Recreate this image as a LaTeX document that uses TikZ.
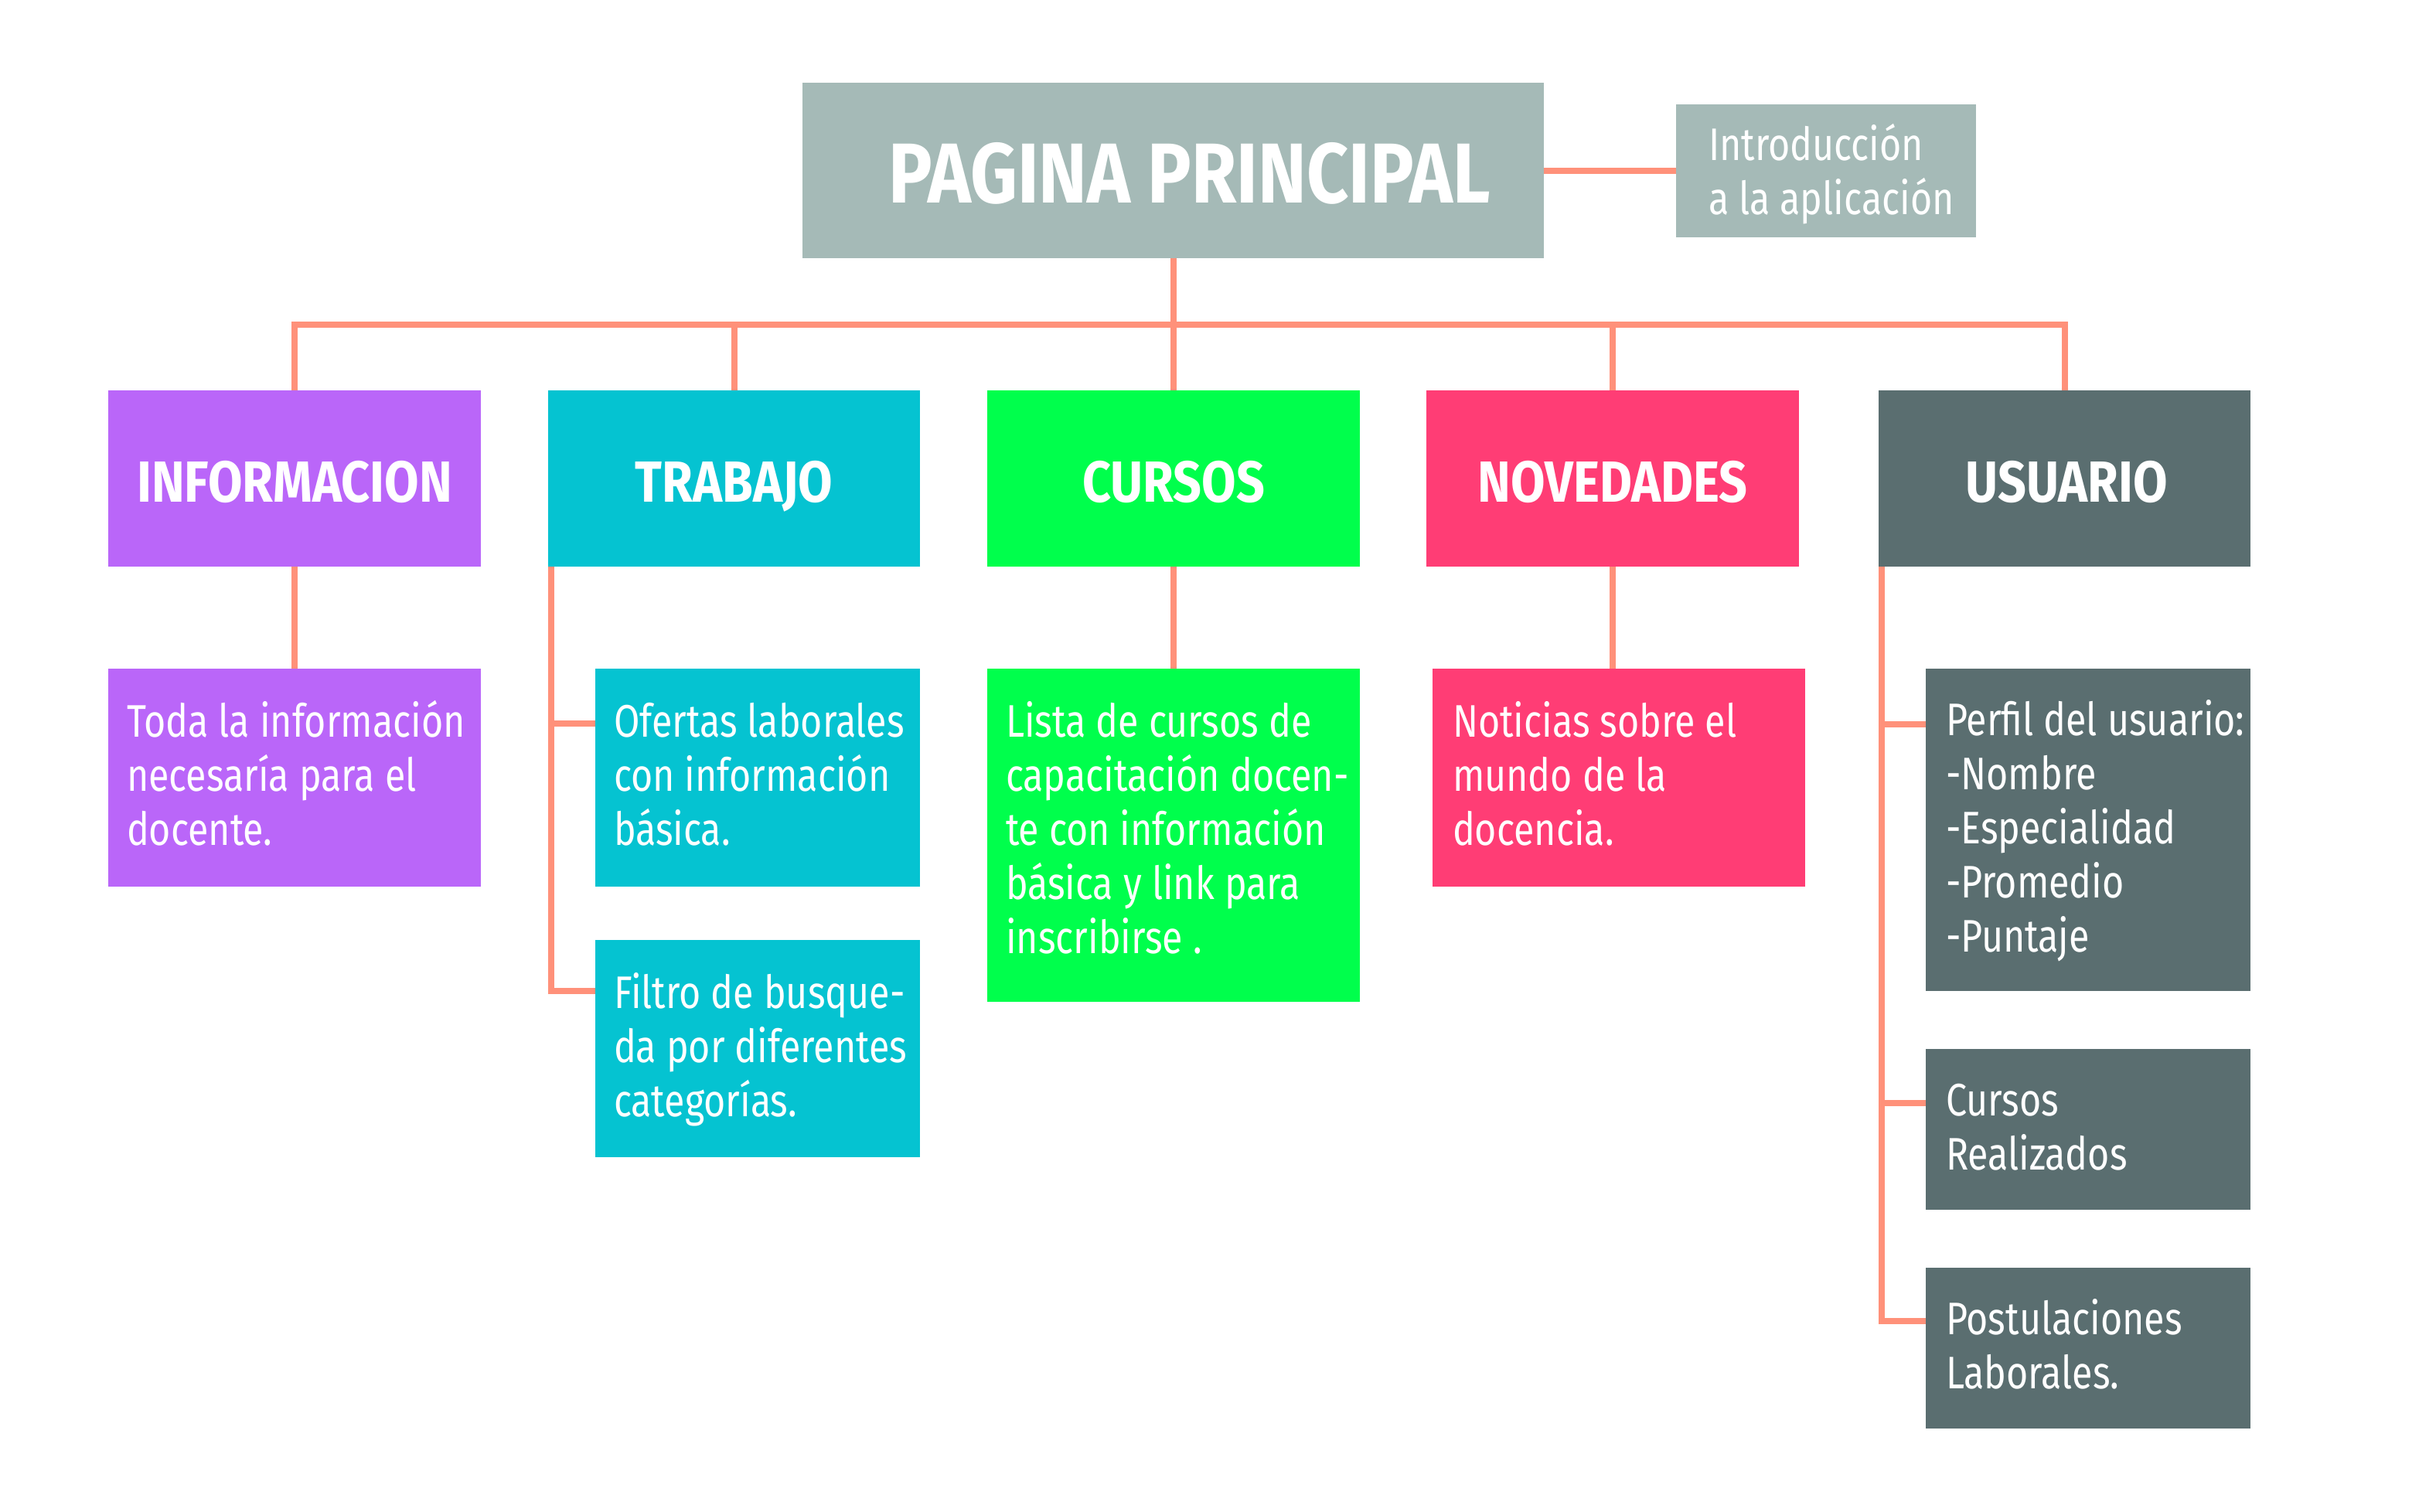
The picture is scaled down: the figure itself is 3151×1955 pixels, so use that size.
\documentclass[tikz,border=0pt]{standalone}
\usepackage{fontspec}
\setmainfont{Fira Sans}[FakeStretch=0.82]
\newfontfamily\headfont{Fira Sans}[FakeStretch=0.86]
\usetikzlibrary{calc}
\definecolor{cmain}{HTML}{A5BAB7}
\definecolor{cpurple}{HTML}{BA66F9}
\definecolor{ccyan}{HTML}{05C3D1}
\definecolor{cgreen}{HTML}{00FF4C}
\definecolor{cpink}{HTML}{FF3D75}
\definecolor{cslate}{HTML}{5A6E70}
\definecolor{cline}{HTML}{FF917A}
\newcommand\mkbox[6]{\node[box,fill=#6,minimum width={#4-#2},minimum height={#5-#3}] (#1) at (#2,#3) {};}
\newcommand\tightspace{\spaceskip=13pt\relax}
\begin{document}
\begin{tikzpicture}[x=1pt,y=-1pt,
  box/.style={draw=none,inner sep=0pt,outer sep=0pt,anchor=north west},
  btext/.style={text=white,inner sep=0pt,outer sep=0pt,align=left,text width=470pt,anchor=base west,font=\fontsize{59}{70}\selectfont,execute at begin node=\tightspace},
  htext/.style={text=white,inner sep=0pt,anchor=base,font=\headfont\bfseries\fontsize{75}{80}\selectfont},
  conn/.style={draw=cline,line width=8pt,line join=miter}]
\useasboundingbox[fill=white] (0,0) rectangle (3151,1955);
% boxes
\mkbox{main}{1038}{107}{1997}{334}{cmain}
\mkbox{intro}{2168}{135}{2556}{307}{cmain}
\mkbox{infoh}{140}{505}{622}{733}{cpurple}
\mkbox{trabh}{709}{505}{1190}{733}{ccyan}
\mkbox{cursh}{1277}{505}{1759}{733}{cgreen}
\mkbox{novh}{1845}{505}{2327}{733}{cpink}
\mkbox{usuh}{2430}{505}{2911}{733}{cslate}
\mkbox{infoc}{140}{865}{622}{1147}{cpurple}
\mkbox{trab1}{770}{865}{1190}{1147}{ccyan}
\mkbox{trab2}{770}{1216}{1190}{1497}{ccyan}
\mkbox{cursc}{1277}{865}{1759}{1296}{cgreen}
\mkbox{novc}{1853}{865}{2335}{1147}{cpink}
\mkbox{us1}{2491}{865}{2911}{1282}{cslate}
\mkbox{us2}{2491}{1357}{2911}{1565}{cslate}
\mkbox{us3}{2491}{1640}{2911}{1848}{cslate}
% titles
\node[text=white,inner sep=0pt,anchor=base,font=\headfont\bfseries\fontsize{110}{120}\selectfont] (tmain) at ($(main.center)+(21,42)$) {PAGINA PRINCIPAL};
\node[htext] (tinfo) at ($(infoh.center)+(0,30)$) {INFORMACION};
\node[htext] (ttrab) at ($(trabh.center)+(0,30)$) {TRABAJO};
\node[htext] (tcurs) at ($(cursh.center)+(0,30)$) {CURSOS};
\node[htext] (tnov) at ($(novh.center)+(0,30)$) {NOVEDADES};
\node[htext] (tusu) at ($(usuh.center)+(3,30)$) {USUARIO};
% texts
\node[btext] (tintro) at ($(intro.north west)+(42,72)$) {Introducción\\a la aplicación};
\node[btext] (tinfoc) at ($(infoc.north west)+(24,88)$) {Toda la información\\necesaría para el\\docente.};
\node[btext] (ttrab1) at ($(trab1.north west)+(24,88)$) {Ofertas laborales\\con información\\básica.};
\node[btext] (ttrab2) at ($(trab2.north west)+(24,88)$) {Filtro de busque-\\da por diferentes\\categorías.};
\node[btext] (tcursc) at ($(cursc.north west)+(24,88)$) {Lista de cursos de\\capacitación docen-\\te con información\\básica y link para\\inscribirse .};
\node[btext] (tnovc) at ($(novc.north west)+(26,88)$) {Noticias sobre el\\mundo de la\\docencia.};
\node[btext] (tus1) at ($(us1.north west)+(26,86)$) {Perfil del usuario:\\-Nombre\\-Especialidad\\-Promedio\\-Puntaje};
\node[btext] (tus2) at ($(us2.north west)+(26,86)$) {Cursos\\Realizados};
\node[btext] (tus3) at ($(us3.north west)+(26,86)$) {Postulaciones\\Laborales.};
% connectors
\coordinate (barc) at (1517,420);
\draw[conn] (main.east |- intro.west) -- (intro.west);
\draw[conn] (main.south) -- (main.south |- barc);
\draw[conn] (infoh.north) -- (infoh.north |- barc) -- (usuh.north |- barc) -- (usuh.north);
\draw[conn] (trabh.north) -- (trabh.north |- barc);
\draw[conn] (cursh.north) -- (cursh.north |- barc);
\draw[conn] (novh.north) -- (novh.north |- barc);
\draw[conn] (infoh.south) -- (infoc.north);
\draw[conn] (cursh.south) -- (cursh.south |- cursc.north);
\draw[conn] (novh.south) -- (novh.south |- novc.north);
% trabajo branches
\coordinate (ttop) at ($(trabh.south west)+(4,0)$);
\coordinate (tb1) at ($(trab1.north west)+(0,71)$);
\coordinate (tb2) at ($(trab2.north west)+(0,66)$);
\draw[conn] (ttop) -- (ttop |- tb2) -- (tb2);
\draw[conn] (ttop |- tb1) -- (tb1);
% usuario branches
\coordinate (utop) at ($(usuh.south west)+(4,0)$);
\coordinate (ub1) at ($(us1.north west)+(0,72)$);
\coordinate (ub2) at ($(us2.north west)+(0,70)$);
\coordinate (ub3) at ($(us3.north west)+(0,69)$);
\draw[conn] (utop) -- (utop |- ub3) -- (ub3);
\draw[conn] (utop |- ub1) -- (ub1);
\draw[conn] (utop |- ub2) -- (ub2);
\end{tikzpicture}
\end{document}
